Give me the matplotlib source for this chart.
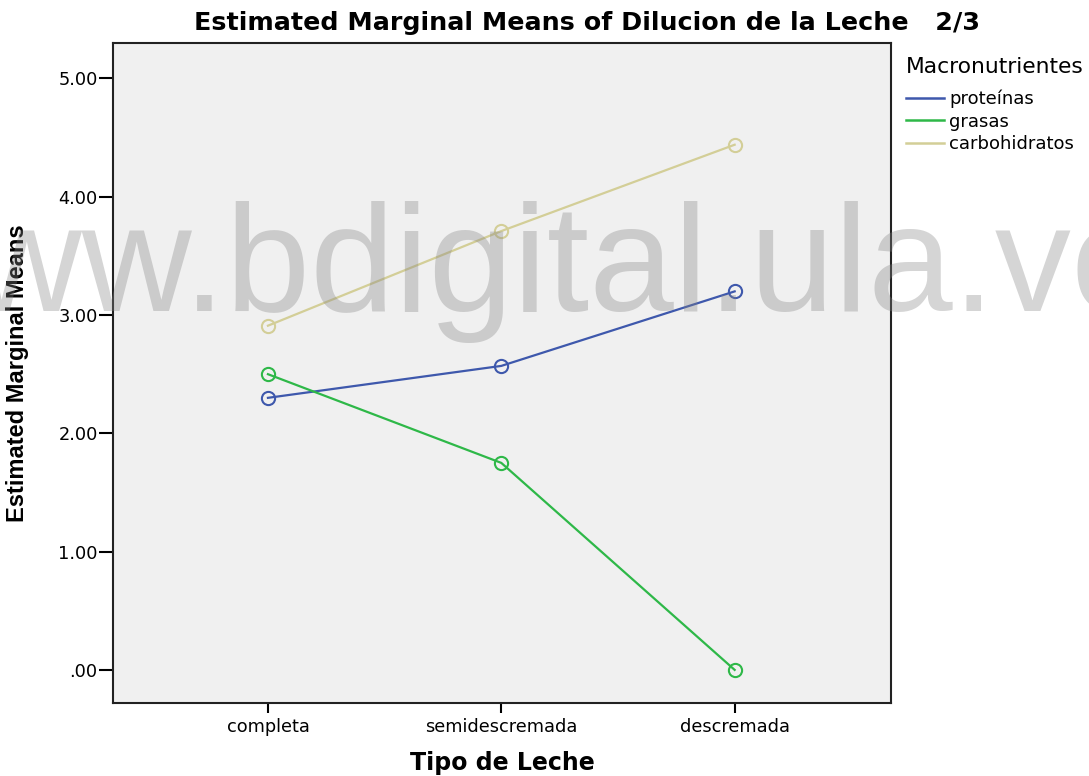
import matplotlib
matplotlib.use("Agg")
import matplotlib.pyplot as plt
from matplotlib.lines import Line2D

tipos = ["completa", "semidescremada", "descremada"]
series_names = ["proteínas", "grasas", "carbohidratos"]
proteinas = [2.30, 2.57, 3.20]
grasas = [2.50, 1.75, 0.00]
carbohidratos = [2.91, 3.71, 4.44]
y_ticks = [0, 1, 2, 3, 4, 5]
y_ticklabels = [".00", "1.00", "2.00", "3.00", "4.00", "5.00"]

colors = ["#3E58AC", "#2EB848", "#D3CE97"]
W, H = 1089, 776

plt.rcParams["font.family"] = ["DejaVu Sans"]
fig = plt.figure(figsize=(W / 100, H / 100), dpi=100)
fig.patch.set_facecolor("white")
ax = fig.add_axes([113 / W, 1 - 703 / H, 778 / W, 660 / H])
ax.set_facecolor("#F0F0F0")

x = list(range(len(tipos)))
handles = []
for vals, c in zip([proteinas, grasas, carbohidratos], colors):
    ax.plot(x, vals, color=c, lw=1.6, marker="o", ms=9.5, mfc="none",
            mec=c, mew=1.5, zorder=3)
    handles.append(Line2D([], [], color=c, lw=1.8))

ax.set_xlim(-0.664, 2.67)
ax.set_ylim(-0.28, 5.30)
ax.set_xticks(x)
ax.set_xticklabels(tipos, fontsize=12.8)
ax.set_yticks(y_ticks)
ax.set_yticklabels(y_ticklabels, fontsize=12.8)
ax.tick_params(axis="x", direction="out", length=7.5, width=1.5, pad=3)
ax.tick_params(axis="y", direction="out", length=10, width=1.5, pad=1)
for s in ax.spines.values():
    s.set_linewidth(1.5)
    s.set_color("#222222")

ax.set_xlabel("Tipo de Leche", fontsize=17, fontweight="bold")
ax.xaxis.set_label_coords(0.5, -0.072)
ax.set_ylabel("Estimated Marginal Means", fontsize=17, fontweight="bold",
              family=["Liberation Sans", "DejaVu Sans"])
ax.yaxis.set_label_coords(-0.108, 0.5)

fig.text(587 / W, 1 - 23 / H, "Estimated Marginal Means of Dilucion de la Leche   2/3",
         ha="center", va="center", fontsize=18.3, fontweight="bold")

leg = fig.legend(handles, series_names, title="Macronutrientes",
                 loc="upper left", bbox_to_anchor=(906 / W, 1 - 57 / H),
                 frameon=False, fontsize=13, title_fontsize=15.7,
                 handlelength=2.1, handletextpad=0.3, labelspacing=0.25,
                 borderaxespad=0, borderpad=0, alignment="left")
leg._legend_box.sep = 9

# watermark
fig.text(-138 / W, (H - 311) / H, "www.bdigital.ula.ve", fontsize=109.5,
         family="Liberation Sans", color="#848484", alpha=0.34,
         ha="left", va="baseline", zorder=5)

fig.savefig("out.png", dpi=100)
